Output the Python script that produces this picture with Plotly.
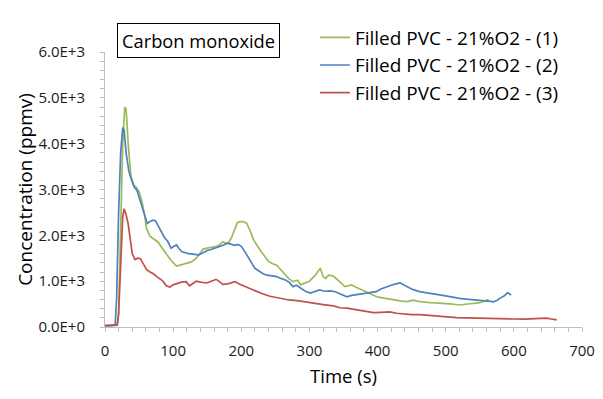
import plotly.graph_objects as go

# ---- data ----
t1 = [0, 10, 18, 20, 23, 26, 29, 31, 34, 38, 42, 46, 50, 54, 58, 61, 66, 72, 78, 84, 90, 97, 105, 112, 120, 127,
      134, 140, 144, 150, 158, 164, 168, 173, 177, 181, 186, 190, 194, 198, 203, 208, 213, 218, 223, 228, 234, 240,
      246, 252, 258, 264, 270, 276, 283, 287, 293, 300, 308, 313, 316, 320, 324, 328, 335, 342, 348, 352, 357, 362,
      367, 372, 378, 384, 391, 398, 405, 412, 418, 425, 433, 443, 452, 460, 468, 477, 485, 493, 501, 510, 520, 530,
      540, 550, 557, 563]
c1 = [30, 30, 40, 300, 2000, 4000, 4800, 4750, 4000, 3300, 3100, 3050, 2950, 2750, 2450, 2150, 1980, 1920, 1850,
      1720, 1600, 1450, 1330, 1360, 1390, 1420, 1500, 1620, 1700, 1720, 1740, 1760, 1790, 1860, 1830, 1830, 1960,
      2100, 2270, 2300, 2300, 2260, 2100, 1900, 1780, 1670, 1550, 1430, 1380, 1350, 1250, 1140, 1050, 990, 1020, 920,
      950, 1000, 1120, 1230, 1280, 1100, 1060, 1130, 1110, 1020, 930, 880, 900, 920, 880, 845, 800, 770, 720, 665,
      640, 620, 605, 590, 570, 555, 585, 560, 540, 530, 525, 520, 515, 500, 480, 495, 500, 530, 565, 600]

t2 = [0, 10, 15, 17, 20, 23, 26, 28, 31, 35, 39, 43, 47, 51, 55, 59, 62, 66, 70, 74, 78, 82, 87, 92, 97, 101, 105,
      109, 113, 118, 123, 130, 137, 144, 150, 156, 162, 168, 174, 180, 185, 190, 195, 200, 205, 210, 215, 220, 226,
      232, 238, 245, 252, 258, 264, 270, 276, 281, 287, 294, 301, 308, 315, 322, 330, 338, 346, 355, 362, 370, 379,
      388, 398, 405, 413, 420, 427, 433, 438, 443, 450, 456, 462, 470, 480, 491, 500, 510, 520, 530, 540, 550, 560,
      566, 570, 575, 580, 586, 591, 596]
c2 = [30, 30, 60, 600, 2500, 3800, 4350, 4300, 3800, 3400, 3200, 3050, 2980, 2800, 2620, 2400, 2260, 2300, 2330,
      2320, 2200, 2080, 1960, 1870, 1720, 1760, 1790, 1700, 1640, 1620, 1600, 1590, 1570, 1620, 1670, 1690, 1720,
      1750, 1790, 1830, 1800, 1780, 1800, 1760, 1650, 1530, 1400, 1280, 1220, 1160, 1130, 1110, 1100, 1060, 1030,
      980, 880, 910, 850, 780, 740, 780, 810, 780, 790, 770, 720, 660, 690, 710, 730, 750, 770, 830, 880, 910, 940,
      960, 920, 880, 830, 800, 770, 750, 720, 700, 680, 650, 625, 610, 600, 590, 570, 560, 550, 580, 630, 680, 750,
      700]

t3 = [0, 10, 18, 20, 23, 26, 28, 31, 34, 37, 40, 44, 48, 52, 56, 61, 66, 71, 76, 80, 85, 90, 95, 100, 105, 112, 119,
      124, 129, 134, 140, 149, 156, 163, 168, 173, 180, 186, 191, 197, 203, 208, 215, 222, 230, 242, 256, 270, 285,
      300, 310, 320, 335, 345, 355, 364, 375, 385, 394, 405, 418, 428, 438, 450, 462, 475, 487, 500, 516, 530, 540,
      555, 570, 585, 600, 615, 630, 648, 655, 663]
c3 = [30, 30, 40, 300, 1500, 2400, 2580, 2450, 2250, 1900, 1600, 1470, 1500, 1490, 1380, 1250, 1200, 1160, 1100,
      1060, 1000, 900, 870, 920, 950, 980, 990, 900, 950, 1000, 980, 960, 1000, 1040, 990, 930, 940, 970, 990, 940,
      900, 880, 820, 770, 730, 670, 630, 590, 570, 530, 510, 490, 460, 420, 410, 385, 360, 340, 315, 320, 330, 300,
      280, 270, 268, 250, 240, 225, 205, 200, 195, 190, 175, 178, 175, 170, 185, 195, 175, 155]

names = ["Filled PVC - 21%O2 - (1)", "Filled PVC - 21%O2 - (2)", "Filled PVC - 21%O2 - (3)"]
colors = ["#9BBB59", "#4F81BD", "#C0504D"]

y_tickvals = [0, 1000, 2000, 3000, 4000, 5000, 6000]
y_ticktext = ["0.0E+0", "1.0E+3", "2.0E+3", "3.0E+3", "4.0E+3", "5.0E+3", "6.0E+3"]
x_tickvals = [0, 100, 200, 300, 400, 500, 600, 700]

FONT = "'Open Sans', sans-serif"

fig = go.Figure()
for i, (t, c, n, col) in enumerate(zip([t1, t2, t3], [c1, c2, c3], names, colors)):
    fig.add_trace(go.Scatter(x=t, y=c, name=n, mode="lines", legendgroup=f"g{i}",
                             line=dict(color=col, width=1.7)))

axis_common = dict(showgrid=False, zeroline=False, showline=True, linecolor="#BFBFBF", linewidth=1,
                   ticks="outside", ticklen=4, tickcolor="#BFBFBF",
                   tickfont=dict(family=FONT, size=15, color="#1A1A1A"))

fig.update_xaxes(range=[0, 700], tickvals=x_tickvals, ticklabelstandoff=6,
                 minor=dict(dtick=20, ticks="outside", ticklen=4, tickcolor="#BFBFBF"),
                 title=dict(text="Time (s)", font=dict(family=FONT, size=18.5, color="#000000"), standoff=11),
                 **axis_common)
fig.update_yaxes(range=[0, 6000], tickvals=y_tickvals, ticktext=y_ticktext, ticklabelstandoff=12,
                 minor=dict(dtick=200, ticks="outside", ticklen=4, tickcolor="#BFBFBF"),
                 title=dict(text="Concentration (ppmv)", font=dict(family=FONT, size=19, color="#000000"), standoff=0),
                 **axis_common)

fig.add_annotation(text="Carbon monoxide", xref="paper", yref="paper", x=0.025, y=1.0436,
                   xanchor="left", yanchor="middle", showarrow=False,
                   font=dict(family=FONT, size=18.3, color="#000000"),
                   bordercolor="#000000", borderwidth=1, borderpad=4, bgcolor="white")

fig.update_layout(
    width=595, height=391,
    margin=dict(l=97, r=21, t=44, b=72, autoexpand=False),
    plot_bgcolor="white", paper_bgcolor="white",
    legend=dict(x=0.44, y=1.122, xanchor="left", yanchor="top",
                font=dict(family=FONT, size=19, color="#000000"),
                bgcolor="rgba(0,0,0,0)", itemwidth=30, tracegroupgap=0),
    showlegend=True,
)

fig.write_html("out.html")
